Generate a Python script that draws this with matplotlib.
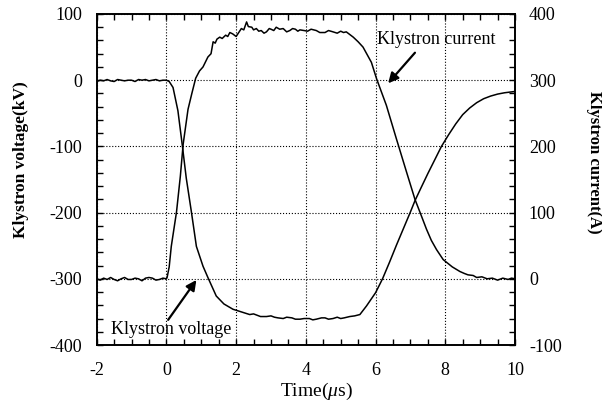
import matplotlib
matplotlib.use("Agg")
import matplotlib.pyplot as plt
from matplotlib.ticker import MultipleLocator

plt.rcParams['font.family'] = ['Liberation Serif', 'DejaVu Serif']
plt.rcParams['mathtext.fontset'] = 'custom'
plt.rcParams['mathtext.rm'] = 'Liberation Serif'
plt.rcParams['mathtext.it'] = 'Liberation Serif:italic'
plt.rcParams['axes.unicode_minus'] = False

# Klystron voltage (kV), left axis
volt_t = [-2.0, -1.9, -1.8, -1.7, -1.6, -1.5, -1.4, -1.3, -1.2, -1.1, -1.0, -0.9, -0.8,
          -0.7, -0.6, -0.5, -0.4, -0.3, -0.2, -0.1, 0.0, 0.08, 0.19,
          0.33, 0.46, 0.57, 0.72, 0.86, 1.05, 1.19, 1.43, 1.65, 1.91, 2.15, 2.39, 2.5,
          2.6, 2.7, 2.87, 3.0, 3.1, 3.2, 3.35, 3.45, 3.6, 3.7, 3.83, 3.95, 4.1, 4.2, 4.3,
          4.45, 4.55, 4.65, 4.78, 4.9, 5.0, 5.1, 5.26, 5.4, 5.55, 5.74,
          6.0, 6.2, 6.4, 6.6, 6.8, 7.0, 7.13, 7.3, 7.5, 7.7, 7.89, 8.1, 8.3, 8.5, 8.7,
          8.9, 9.1, 9.3, 9.5, 9.7, 9.85, 10.0]
volt_v = [-2, 0, -1, 1, -1, -2, 1, 0, -1, 0, 0, -2, 1,
          0, 1, -1, 0, 1, -1, 0, 0, -2, -11,
          -46, -100, -148, -200, -251, -281, -298, -326, -338, -346, -350, -354, -353,
          -355, -357, -357, -356, -358, -359, -360, -358, -359, -361, -361, -360, -360, -362, -361,
          -359, -359, -361, -360, -358, -360, -359, -357, -356, -354, -341,
          -321, -300, -275, -249, -224, -199, -182, -163, -141, -120, -100, -82, -66, -52, -42,
          -34, -28, -24, -21, -19, -18, -17]

# Klystron current (A), right axis
cur_t = [-2.0, -1.9, -1.8, -1.7, -1.6, -1.5, -1.4, -1.3, -1.2, -1.1, -1.0, -0.9, -0.8,
         -0.7, -0.6, -0.5, -0.4, -0.3, -0.2, -0.1, 0.0, 0.02, 0.08,
         0.14, 0.29, 0.40, 0.48, 0.62, 0.73, 0.84, 0.95, 1.05, 1.19, 1.28, 1.34, 1.4,
         1.45, 1.53, 1.6, 1.7, 1.76, 1.82, 1.9, 2.0, 2.05, 2.15, 2.22, 2.3, 2.35, 2.45,
         2.5, 2.58, 2.65, 2.72, 2.8, 2.87, 2.95, 3.0, 3.08, 3.15, 3.25, 3.35, 3.45, 3.54,
         3.62, 3.7, 3.77, 3.83, 3.95, 4.05, 4.15, 4.3, 4.4, 4.55, 4.65, 4.78, 4.9, 5.0,
         5.08, 5.16, 5.26, 5.36, 5.5, 5.64, 5.88, 6.03, 6.31, 6.6,
         6.89, 7.13, 7.3, 7.46, 7.6, 7.75, 7.94, 8.2, 8.42, 8.55, 8.65, 8.8, 8.9, 9.05,
         9.2, 9.35, 9.5, 9.65, 9.8, 9.9, 10.0]
cur_v = [0, -2, 1, -1, 2, -1, -3, 0, 2, -1, -1, 1, 0,
         -3, 1, 2, 1, -2, -1, 1, 0, 2, 18,
         49, 101, 155, 203, 256, 280, 303, 314, 320, 335, 340, 358, 356,
         362, 365, 363, 368, 366, 372, 370, 366, 370, 378, 376, 388, 381, 380,
         376, 378, 374, 375, 371, 373, 378, 377, 375, 380, 377, 378, 373, 375,
         378, 377, 374, 376, 375, 374, 377, 375, 372, 372, 375, 373, 371, 374,
         372, 373, 369, 365, 358, 350, 327, 302, 262, 211,
         161, 120, 97, 75, 58, 44, 29, 18, 11, 8, 6, 5, 2, 3,
         0, 1, -2, 1, -1, 1, 0]

fig = plt.figure(figsize=(6.02, 4.03), dpi=100)
ax = fig.add_axes([0.1606, 0.1439, 0.6949, 0.8214])
ax2 = ax.twinx()

ax.plot(volt_t, volt_v, color='black', lw=1.1)
ax2.plot(cur_t, cur_v, color='black', lw=1.1)

ax.set_xlim(-2, 10)
ax.set_ylim(-400, 100)
ax2.set_ylim(-100, 400)

ax.xaxis.set_major_locator(MultipleLocator(2))
ax.xaxis.set_minor_locator(MultipleLocator(0.5))
ax.yaxis.set_major_locator(MultipleLocator(100))
ax.yaxis.set_minor_locator(MultipleLocator(20))
ax2.yaxis.set_major_locator(MultipleLocator(100))
ax2.yaxis.set_minor_locator(MultipleLocator(20))

ax.grid(True, which='major', color='black', linestyle=':', linewidth=0.8)

ax.tick_params(axis='both', which='both', direction='in', length=4, width=1,
               labelsize=13, top=True, right=False)
ax.tick_params(axis='x', pad=12.5)
ax.tick_params(axis='y', pad=10.5)
ax2.tick_params(axis='y', which='both', direction='in', length=4, width=1,
                labelsize=13, pad=10)

for a in (ax, ax2):
    for s in a.spines.values():
        s.set_linewidth(1.2)

fig.text(316 / 602, 1 - 391 / 403, r'Time($\mu$s)', fontsize=14,
         ha='center', va='center')
fig.text(21.5 / 602, 1 - 160 / 403, 'Klystron voltage(kV)', fontsize=12.5,
         fontweight='bold', rotation=90, ha='center', va='center')
fig.text(594 / 602, 1 - 162 / 403, 'Klystron current(A)', fontsize=12,
         fontweight='bold', rotation=270, ha='center', va='center')

ax.annotate('Klystron current', xy=(6.03, 61), fontsize=13, ha='left', va='center')
ax.annotate('', xy=(6.36, -4.7), xytext=(7.13, 41.5),
            arrowprops=dict(arrowstyle='-|>', color='black', lw=1.6,
                            mutation_scale=15, shrinkA=0, shrinkB=0))
ax.annotate('Klystron voltage', xy=(-1.6, -376.6), fontsize=13, ha='left', va='center')
ax.annotate('', xy=(0.86, -301.8), xytext=(0.05, -362),
            arrowprops=dict(arrowstyle='-|>', color='black', lw=1.6,
                            mutation_scale=15, shrinkA=0, shrinkB=0))

fig.savefig('out.png', dpi=100)
